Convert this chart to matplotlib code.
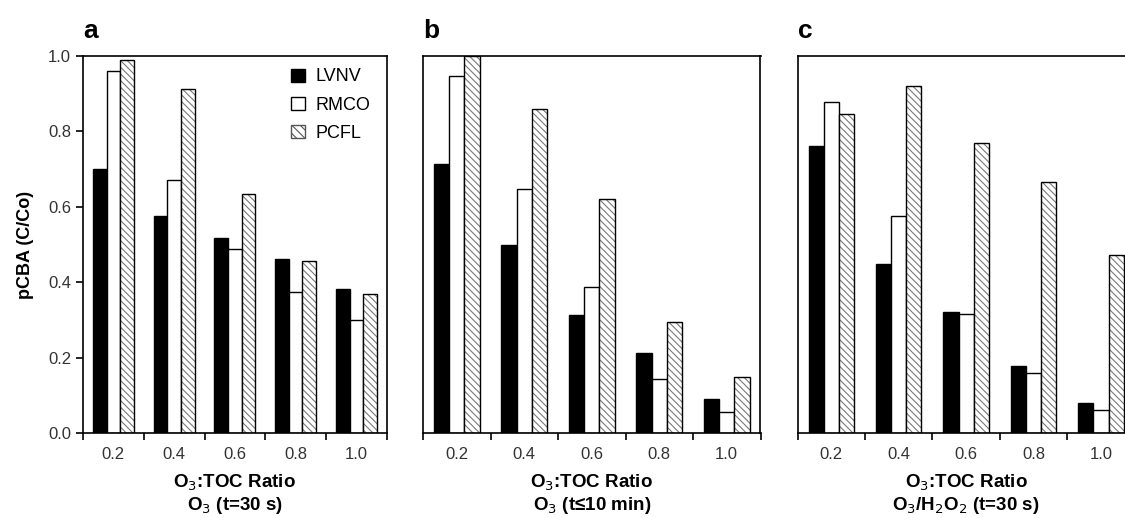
import numpy as np
import matplotlib
matplotlib.use("Agg")
import matplotlib.pyplot as plt
from matplotlib.patches import Patch

plt.rcParams['font.family'] = ['Liberation Sans', 'DejaVu Sans']
plt.rcParams['hatch.linewidth'] = 0.8

ratios = ['0.2', '0.4', '0.6', '0.8', '1.0']
series = ['LVNV', 'RMCO', 'PCFL']

# panel a: O3, t = 30 s
a_lvnv = [0.699, 0.576, 0.517, 0.461, 0.382]
a_rmco = [0.960, 0.670, 0.489, 0.374, 0.299]
a_pcfl = [0.988, 0.913, 0.634, 0.456, 0.368]

# panel b: O3, t <= 10 min
b_lvnv = [0.714, 0.498, 0.314, 0.213, 0.090]
b_rmco = [0.946, 0.648, 0.388, 0.144, 0.057]
b_pcfl = [1.000, 0.860, 0.621, 0.294, 0.148]

# panel c: O3/H2O2, t = 30 s
c_lvnv = [0.761, 0.447, 0.320, 0.177, 0.080]
c_rmco = [0.879, 0.575, 0.317, 0.158, 0.060]
c_pcfl = [0.845, 0.919, 0.768, 0.666, 0.473]

panels = [
    ('a', [a_lvnv, a_rmco, a_pcfl], 'O$_3$ (t=30 s)'),
    ('b', [b_lvnv, b_rmco, b_pcfl], 'O$_3$ (t\u226410 min)'),
    ('c', [c_lvnv, c_rmco, c_pcfl], 'O$_3$/H$_2$O$_2$ (t=30 s)'),
]

fig = plt.figure(figsize=(11.25, 5.18), dpi=100)
rects = [
    [0.0738, 0.164, 0.270, 0.728],
    [0.376, 0.164, 0.300, 0.728],
    [0.709, 0.164, 0.2996, 0.728],
]

x = np.arange(len(ratios))
w = 0.225
hatch_col = '#7a7a7a'

for rect, (letter, vals, sub) in zip(rects, panels):
    ax = fig.add_axes(rect)
    lv, rm, pc = vals
    ax.bar(x - w, lv, w, color='black', edgecolor='black', linewidth=1.0)
    ax.bar(x, rm, w, color='white', edgecolor='black', linewidth=1.0)
    ax.bar(x + w, pc, w, color='white', edgecolor=hatch_col, linewidth=0,
           hatch='\\\\\\\\\\')
    ax.bar(x + w, pc, w, fill=False, edgecolor='black', linewidth=1.0)

    ax.set_xlim(-0.5, len(ratios) - 0.5)
    ax.set_ylim(0, 1.0)
    ax.set_xticks(x)
    ax.set_xticklabels(ratios, fontsize=12, color='#333333')
    ax.tick_params(axis='x', which='major', length=0, pad=10)
    ax.set_xticks(np.arange(-0.5, len(ratios), 1.0), minor=True)
    ax.tick_params(axis='x', which='minor', length=5, width=1.2, direction='out')
    for s in ax.spines.values():
        s.set_linewidth(1.2)

    if letter == 'a':
        ax.set_yticks(np.arange(0, 1.01, 0.2))
        ax.set_yticklabels(['%.1f' % v for v in np.arange(0, 1.01, 0.2)],
                           fontsize=12, color='#333333')
        ax.tick_params(axis='y', length=5, width=1.2, direction='out')
        ax.set_ylabel('pCBA (C/Co)', fontsize=13, fontweight='bold', labelpad=10)
        handles = [
            Patch(facecolor='black', edgecolor='black'),
            Patch(facecolor='white', edgecolor='black'),
            Patch(facecolor='white', edgecolor='#555555', hatch='\\\\\\\\'),
        ]
        ax.legend(handles, series, loc='upper right', frameon=False,
                  fontsize=13, handlelength=0.75, handleheight=0.75,
                  handletextpad=0.6, labelspacing=0.62,
                  bbox_to_anchor=(1.0, 1.01))
    else:
        ax.set_yticks([])

    ax.set_xlabel('O$_3$:TOC Ratio\n' + sub, fontsize=13.5, fontweight='bold',
                  labelpad=8, linespacing=1.1)
    ax.text(0.0, 1.035, letter, transform=ax.transAxes, fontsize=19,
            fontweight='bold', ha='left', va='bottom')

fig.savefig('out.png', dpi=100)
